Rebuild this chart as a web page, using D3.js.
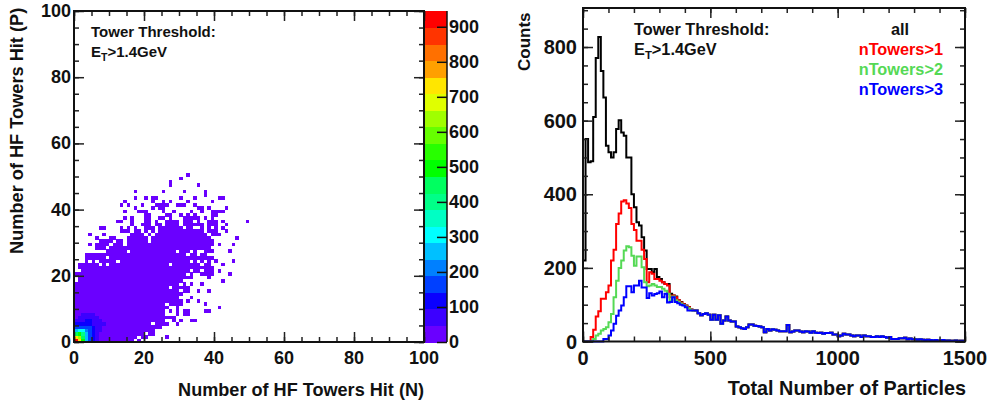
<!DOCTYPE html>
<html><head><meta charset="utf-8">
<script src="https://cdn.jsdelivr.net/npm/d3@7/dist/d3.min.js"></script>
<style>html,body{margin:0;padding:0;background:#fff}svg{display:block}
text{font-family:"Liberation Sans",Arial,sans-serif;font-weight:bold;fill:#111}</style></head><body>
<svg id="c" width="988" height="403"></svg>
<script>
const palette=["#6a00ff","#3c00ff","#0a00ff","#0040ff","#0080ff","#00c0ff","#00ffff","#00ffc4","#00ff88","#00ff60","#00ff00","#28ff00","#66ff00","#a0ff00","#e0ff00","#ffe600","#ffa000","#ff7000","#ff3400","#ff0000"];
const zMax=945;
// occupied cells of the 2D histogram: [P, [[Nfrom,Nto],...]]
const occupiedRows=[
[0,[[0,16],[18,18]]],[1,[[0,17],[19,20],[26,26]]],[2,[[0,19],[21,22]]],[3,[[0,22]]],[4,[[0,23],[24,24]]],
[5,[[0,21],[23,25],[26,26],[29,29]]],[6,[[0,25],[28,28],[30,30],[33,34]]],[7,[[0,26],[27,28]]],
[8,[[0,25],[29,29],[31,32]]],[9,[[0,25],[27,27],[29,29],[31,32],[37,38]]],[10,[[0,26],[29,29],[41,41]]],
[11,[[0,25],[27,30],[37,37]]],[12,[[0,30],[32,32],[35,35]]],[13,[[0,29],[33,33]]],[14,[[0,30]]],
[15,[[0,29],[31,32],[35,35],[38,38]]],[16,[[0,26],[28,32]]],[17,[[0,29],[31,31],[33,33],[36,36]]],
[18,[[1,30],[42,42]]],[19,[[1,33],[38,38]]],[20,[[0,31],[33,33],[36,39],[44,44]]],
[21,[[2,32],[34,35],[37,39],[41,41]]],[22,[[1,2],[3,39]]],[23,[[1,2],[3,6],[8,8],[10,26],[28,35],[37,38],[42,42]]],
[24,[[3,3],[5,5],[7,11],[13,32],[34,34],[36,36],[38,38],[40,40],[45,45]]],[25,[[3,8],[10,39]]],
[26,[[3,4],[5,7],[8,9],[10,31],[33,34],[36,37]]],[27,[[9,14],[16,28],[30,32],[34,34],[37,39],[44,44]]],
[28,[[6,8],[10,14],[15,38]]],[29,[[4,4],[6,9],[11,13],[15,39],[41,41],[45,45]]],
[30,[[7,9],[10,10],[12,13],[15,20],[22,39]]],[31,[[6,6],[10,11],[15,20],[22,32],[33,38],[46,46]]],
[32,[[4,4],[8,8],[16,19],[21,21],[23,37],[39,41]]],
[33,[[13,15],[17,18],[20,20],[22,22],[24,36],[38,40],[43,43]]],
[34,[[7,8],[13,13],[15,15],[17,17],[20,22],[24,30],[32,33],[36,36],[38,38],[40,40],[42,42]]],
[35,[[16,16],[19,21],[23,24],[26,29],[31,36],[38,40],[43,43]]],
[36,[[12,13],[16,16],[20,21],[23,23],[26,29],[31,33],[35,35],[38,40],[42,42],[49,49]]],
[37,[[14,14],[16,16],[20,21],[24,25],[27,27],[31,35],[37,37],[39,39]]],
[38,[[20,21],[26,27],[30,30],[32,32],[34,34],[39,40]]],
[39,[[14,14],[18,20],[25,25],[28,28],[33,33],[36,36],[39,42]]],
[40,[[17,17],[22,22],[24,25],[35,36],[38,38],[43,43]]],
[41,[[13,13],[15,15],[19,19],[23,26],[29,31],[34,34]]],
[42,[[14,14],[22,22],[25,25],[27,27],[32,32],[39,39]]],
[43,[[17,17],[20,20],[22,23],[30,30],[34,34],[41,42]]],
[44,[[37,37]]],[45,[[17,17],[25,25],[31,31],[37,37]]],
[47,[[27,27],[35,35]]],[48,[[27,27]]],[49,[[30,30]]],[50,[[32,32]]]];
// counts of the hot corner, row = P, column = N
const cornerCounts=[
[940,720,500,280,180,130,60,30],
[720,650,470,250,170,120,60,30],
[460,500,400,270,160,110,70,30,30],
[260,320,300,220,160,110,70,50],
[160,170,180,170,150,110,80,50,40],
[110,110,120,120,110,90,70,60,50],
[60,60,70,100,100,70,60,60],
[1,60,70,80,70,60,50,1],
[1,1,60,70,70,60,1,1]];
// 1D histograms, bin width 10
const binWidth=10;
const allHead=[220,550,487,490,610,770,827,735,663,532,514,500,514,577,601,568,559,500,500,400,365,324,315,283,247,197,197,188,197,175,170,161,156,156,130,125,122,112,107,102,98,94,87,85,84];
const redHead=[0,0,0,12,32,68,82,116,116,134,152,220,249,319,348,380,384,375,363,319,303,274,274,249,224,161,188,184,170,170,165,161,156,152,120,125,120,112,106,101,97,93,86,85,84];
const greenHead=[0,0,0,0,7,16,21,30,34,39,52,75,120,165,200,220,247,259,256,233,206,231,231,202,161,150,152,156,152,148,148,143,138,130,111,122,112,108,103,99,95,90,85,84,84];
const blueValues=[0,0,0,0,0,0,0,0,7,7,16,30,48,70,84,98,120,150,150,134,152,152,165,147,147,118,131,125,129,131,136,120,130,106,107,120,107,104,100,98,93,84,84,84,84,77,71,75,77,73,59,73,59,71,48,57,68,57,54,54,41,39,36,34,39,46,46,43,42,41,39,25,34,30,33,32,30,28,28,28,45,25,27,30,30,27,25,28,27,24,28,24,23,24,21,23,23,24,19,19,14,16,21,19,19,16,14,16,16,12,16,14,14,12,12,14,12,14,12,10,12,7,7,7,9,9,10,6,8,6,6,5,6,5,4,5,4,3,4,3,3,4,2,3,2,2,3,1,2,2];
const tailValues=blueValues.slice(allHead.length);
const series=[
 {name:"all",color:"#000000",values:allHead.concat(tailValues)},
 {name:"nTowers>1",color:"#ff0000",values:redHead.concat(tailValues)},
 {name:"nTowers>2",color:"#55d955",values:greenHead.concat(tailValues)},
 {name:"nTowers>3",color:"#0000ff",values:blueValues}];
const leftTicks=[0,20,40,60,80,100], zTicks=[0,100,200,300,400,500,600,700,800,900];
const rightXTicks=[0,500,1000,1500], rightYTicks=[0,200,400,600,800];

const svg=d3.select("#c");
const x=d3.scaleLinear().domain([0,100]).range([74,424]);
const y=d3.scaleLinear().domain([0,100]).range([342,11]);
const z=d3.scaleLinear().domain([0,zMax]).range([342,11]);
const col=d3.scaleQuantize().domain([0,zMax]).range(palette);
const X=d3.scaleLinear().domain([0,1500]).range([583,965]);
const Y=d3.scaleLinear().domain([0,906]).range([341.5,8]);

// cells
const cells=[];
occupiedRows.forEach(([p,rs])=>rs.forEach(([a,b])=>{for(const n of d3.range(a,b+1))cells.push({n,p,c:(cornerCounts[p]&&cornerCounts[p][n])||1});}));
svg.append("g").attr("shape-rendering","crispEdges").selectAll("rect").data(cells).join("rect")
 .attr("x",d=>x(d.n)).attr("y",d=>y(d.p+1)).attr("width",d=>x(d.n+1)-x(d.n)+.3).attr("height",d=>y(d.p)-y(d.p+1)+.3)
 .attr("fill",d=>col(d.c));
// colour bar
const barX=[425,447];
svg.append("g").attr("shape-rendering","crispEdges").selectAll("rect").data(palette).join("rect")
 .attr("x",barX[0]).attr("width",barX[1]-barX[0])
 .attr("y",(d,i)=>z((i+1)*zMax/20)).attr("height",zMax/20*(342-11)/zMax+.5).attr("fill",d=>d);

function frame(g,sx,sy,xMaj,xMin,yMaj,yMin){
 const [l,r]=sx.range(),[b,t]=sy.range();
 const dr=(vals,axisFn,scale,len,tr)=>{const a=axisFn(scale).tickValues(vals).tickSize(-len).tickFormat("");
  const s=g.append("g").attr("transform",tr).call(a);s.select(".domain").remove();s.selectAll("line").attr("stroke","#222").attr("stroke-width",1.5);return s;};
 const h=b-t,w=r-l;
 dr(xMaj,d3.axisBottom,sx,10,`translate(0,${b})`);dr(xMin,d3.axisBottom,sx,5,`translate(0,${b})`);
 dr(xMaj,d3.axisTop,sx,10,`translate(0,${t})`);dr(xMin,d3.axisTop,sx,5,`translate(0,${t})`);
 dr(yMaj,d3.axisLeft,sy,10,`translate(${l},0)`);dr(yMin,d3.axisLeft,sy,5,`translate(${l},0)`);
 dr(yMaj,d3.axisRight,sy,10,`translate(${r},0)`);dr(yMin,d3.axisRight,sy,5,`translate(${r},0)`);
 g.append("rect").attr("x",l).attr("y",t).attr("width",w).attr("height",h).attr("fill","none").attr("stroke","#111").attr("stroke-width",2);
}
const lf=svg.append("g"), rg=svg.append("g");
const everyN=(a,b,s)=>d3.range(a,b+.01,s);
frame(lf,x,y,leftTicks,everyN(0,100,5),leftTicks,everyN(0,100,5));

// histograms
const line=d3.line().x(d=>X(d[0])).y(d=>Y(d[1])).curve(d3.curveStepAfter);
series.forEach(s=>{
 const pts=[[0,0]].concat(s.values.map((v,i)=>[i*binWidth,v]));pts.push([s.values.length*binWidth,s.values[s.values.length-1]]);
 rg.append("path").attr("d",line(pts)).attr("fill","none").attr("stroke",s.color).attr("stroke-width",2);
});
frame(rg,X,Y,rightXTicks,everyN(0,1500,100),rightYTicks,everyN(0,900,50));

// colour bar ticks and outline
svg.append("line").attr("x1",barX[1]).attr("x2",barX[1]).attr("y1",11).attr("y2",342).attr("stroke","#111").attr("stroke-width",1.5);
const zg=svg.append("g").attr("transform",`translate(${barX[1]},0)`).call(d3.axisLeft(z).tickValues(zTicks).tickSize(10).tickFormat(""));
zg.select(".domain").remove();zg.selectAll("line").attr("stroke","#111").attr("stroke-width",1.5);

const fs=18, fr=20;
function label(xp,yp,t,anchor,size,fill){return svg.append("text").attr("x",xp).attr("y",yp).attr("text-anchor",anchor||"start").attr("font-size",size||fs).style("fill",fill||"#111").text(t);}
leftTicks.forEach(v=>{label(x(v),364,v,"middle");label(71,y(v)+6,v,"end");});
zTicks.forEach(v=>label(449,z(v)+6,v,"start"));
rightXTicks.forEach(v=>label(X(v),365,v,"middle",fr));
rightYTicks.forEach(v=>label(577,Y(v)+7,v,"end",fr));
label(424,396,"Number of HF Towers Hit (N)","end",18.1);
label(966,395,"Total Number of Particles","end",19.8);
svg.append("text").attr("transform","translate(23,254) rotate(-90)").attr("font-size",18.2).text("Number of HF Towers Hit (P)");
svg.append("text").attr("transform","translate(530,71) rotate(-90)").attr("font-size",17).text("Counts");
function threshold(xp,y1,size){label(xp,y1,"Tower Threshold:","start",size);
 const t=label(xp,y1+20,"E","start",size);t.append("tspan").attr("dy",4).attr("font-size",size*.7).text("T");t.append("tspan").attr("dy",-4).text(">1.4GeV");}
threshold(91,37,15);threshold(634,35,16.3);
label(900,35,"all","middle",16.3,"#111");
label(943,55,"nTowers>1","end",16.3,"#ff0000");
label(943,75,"nTowers>2","end",16.3,"#55d955");
label(943,95,"nTowers>3","end",16.3,"#0000ff");
</script></body></html>
